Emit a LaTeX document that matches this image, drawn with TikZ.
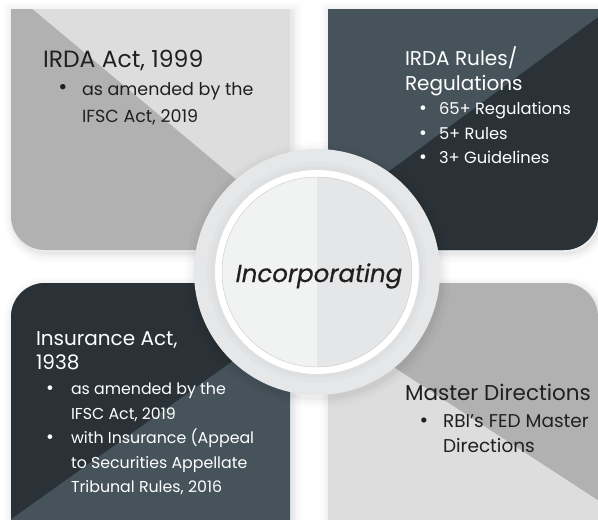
\documentclass[tikz,border=0pt]{standalone}
\usepackage{fontspec}
\setmainfont{Poppins}
\usetikzlibrary{calc}
\begin{document}
\begin{tikzpicture}[x=1pt,y=-1pt,
  lbl/.style={anchor=base west,inner sep=0pt,outer sep=0pt},
  bul/.style={anchor=base,inner sep=0pt,outer sep=0pt},
]
\definecolor{lg}{HTML}{DDDDDD}
\definecolor{mg}{HTML}{B1B1B1}
\definecolor{ds}{HTML}{2A3237}
\definecolor{ls}{HTML}{46535B}
\definecolor{ringc}{HTML}{E6E7E8}
\definecolor{inl}{HTML}{F1F2F2}
\definecolor{inr}{HTML}{E5E6E7}
\definecolor{txt}{HTML}{231F20}
\definecolor{edgec}{HTML}{CFCFCF}

\useasboundingbox (0,0) rectangle (598,520);
\fill[white] (0,0) rectangle (598,520);

\def\pTL{(11,9) -- (290,9) -- (290,250) -- (45,250) .. controls (26.2,250) and (11,234.8) .. (11,216) -- cycle}
\def\pTR{(328,9) -- (598,9) -- (598,216) .. controls (598,234.8) and (582.8,250) .. (564,250) -- (328,250) -- cycle}
\def\pBL{(11,317) .. controls (11,298.2) and (26.2,283) .. (45,283) -- (290,283) -- (290,540) -- (11,540) -- cycle}
\def\pBR{(328,283) -- (564,283) .. controls (582.8,283) and (598,298.2) .. (598,317) -- (598,540) -- (328,540) -- cycle}

% soft shadows
\foreach \w/\o in {18/0.015,12/0.02,7/0.025,3/0.03}{
  \draw[line width=\w pt,draw opacity=\o,shift={(2,3)}] \pTL;
  \draw[line width=\w pt,draw opacity=\o,shift={(2,3)}] \pTR;
  \draw[line width=\w pt,draw opacity=\o,shift={(2,3)}] \pBL;
  \draw[line width=\w pt,draw opacity=\o,shift={(2,3)}] \pBR;
}

% top-left panel
\begin{scope}
  \clip \pTL;
  \fill[lg] (0,0) rectangle (300,260);
  \fill[mg] (0,-18) -- (330,258) -- (0,258) -- cycle;
\end{scope}
% top-right panel
\begin{scope}
  \clip \pTR;
  \fill[ls] (320,0) rectangle (600,260);
  \fill[ds] (620,1) -- (270,259) -- (620,259) -- cycle;
\end{scope}
% bottom-left panel
\begin{scope}
  \clip \pBL;
  \fill[ls] (0,270) rectangle (300,540);
  \fill[ds] (0,270) -- (300,270) -- (300,313) -- (0,527) -- cycle;
\end{scope}
% bottom-right panel
\begin{scope}
  \clip \pBR;
  \fill[lg] (320,270) rectangle (600,540);
  \fill[mg] (320,270) -- (610,270) -- (610,508) -- (320,319) -- cycle;
\end{scope}

% central circle
\coordinate (c) at (317,272);
\foreach \r/\o in {133/0.012,130/0.015,127/0.02,125/0.025}{
  \fill[black,opacity=\o] ($(c)+(1,3)$) circle (\r);
}
\fill[ringc] (c) circle (123);
\fill[black,opacity=0.015] (c) circle (110);
\fill[black,opacity=0.015] (c) circle (106);
\fill[white] (c) circle (102);
\begin{scope}
  \clip (c) circle (95);
  \fill[inl] (200,160) rectangle (317,380);
  \fill[inr] (317,160) rectangle (430,380);
\end{scope}
\draw[edgec,line width=0.5pt] (c) circle (95);

\node[anchor=base,inner sep=0pt,text=txt,font=\fontsize{24.5}{28}\selectfont\itshape\addfontfeature{FakeBold=0.6}] (inc) at (319,282) {Incorporating};

% texts top-left
\begin{scope}[text=txt]
\node[lbl,font=\fontsize{23.5}{28}\selectfont] (t1) at (43,67) {IRDA Act, 1999};
\node[bul,font=\fontsize{22}{24}\selectfont] (t1b) at (63,94) {•};
\node[lbl,font=\fontsize{17.5}{20}\selectfont] (t1l1) at (82,95) {as amended by the};
\node[lbl,font=\fontsize{17.5}{20}\selectfont] (t1l2) at (82,122) {IFSC Act, 2019};
\end{scope}

% texts top-right
\begin{scope}[text=white]
\node[lbl,font=\fontsize{20}{24}\selectfont] (t2) at (405,65) {IRDA Rules/};
\node[lbl,font=\fontsize{20}{24}\selectfont] (t2b) at (405,90) {Regulations};
\node[bul,font=\fontsize{19}{22}\selectfont] (t2p1) at (423,114) {•};
\node[lbl,font=\fontsize{16.3}{19}\selectfont] (t2l1) at (439,114) {65+ Regulations};
\node[bul,font=\fontsize{19}{22}\selectfont] (t2p2) at (423,139) {•};
\node[lbl,font=\fontsize{16.3}{19}\selectfont] (t2l2) at (439,139) {5+ Rules};
\node[bul,font=\fontsize{19}{22}\selectfont] (t2p3) at (423,163) {•};
\node[lbl,font=\fontsize{16.3}{19}\selectfont] (t2l3) at (439,163) {3+ Guidelines};
\end{scope}

% texts bottom-left
\begin{scope}[text=white]
\node[lbl,font=\fontsize{20}{24}\selectfont] (t3) at (36,345) {Insurance Act,};
\node[lbl,font=\fontsize{20}{24}\selectfont] (t3b) at (36,369) {1938};
\node[bul,font=\fontsize{19}{22}\selectfont] (t3p1) at (50,394) {•};
\node[lbl,font=\fontsize{15.8}{19}\selectfont] (t3l1) at (71,394) {as amended by the};
\node[lbl,font=\fontsize{15.8}{19}\selectfont] (t3l2) at (71,419) {IFSC Act, 2019};
\node[bul,font=\fontsize{19}{22}\selectfont] (t3p2) at (50,443) {•};
\node[lbl,font=\fontsize{15.8}{19}\selectfont] (t3l3) at (71,443) {with Insurance (Appeal};
\node[lbl,font=\fontsize{15.8}{19}\selectfont] (t3l4) at (71,468) {to Securities Appellate};
\node[lbl,font=\fontsize{15.8}{19}\selectfont] (t3l5) at (71,492) {Tribunal Rules, 2016};
\end{scope}

% texts bottom-right
\begin{scope}[text=txt]
\node[lbl,font=\fontsize{21.5}{26}\selectfont] (t4) at (405,400) {Master Directions};
\node[bul,font=\fontsize{21}{24}\selectfont] (t4p) at (424,427) {•};
\node[lbl,font=\fontsize{18.5}{22}\selectfont] (t4l1) at (443,427) {RBI’s FED Master};
\node[lbl,font=\fontsize{18.5}{22}\selectfont] (t4l2) at (443,452) {Directions};
\end{scope}
\end{tikzpicture}
\end{document}
